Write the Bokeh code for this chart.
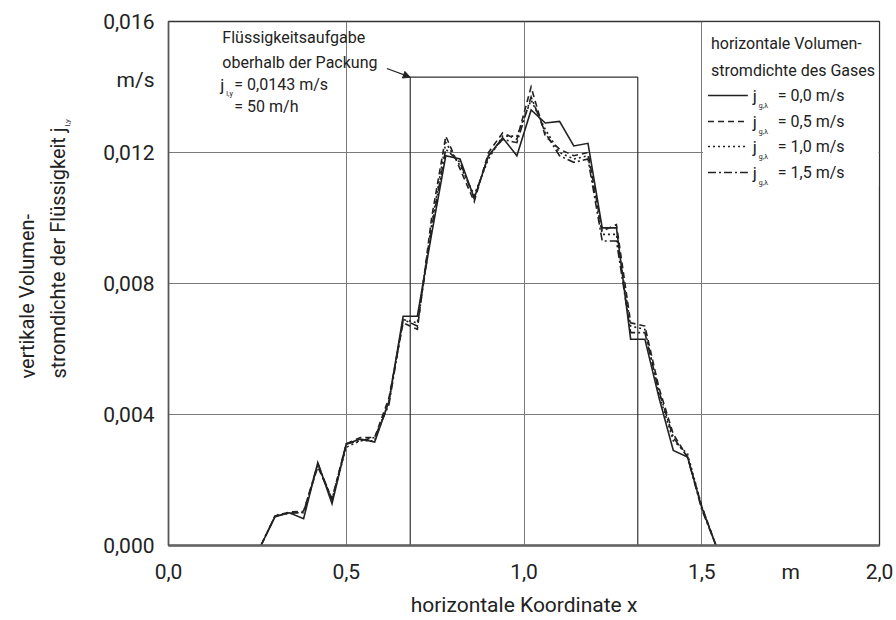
from bokeh.plotting import figure
from bokeh.layouts import row
from bokeh.models import Range1d, FixedTicker, CustomJSTickFormatter, Label, Arrow, NormalHead
from bokeh.embed import file_html
from bokeh.resources import INLINE

# ---------------- data ----------------
x_pos = [0.26, 0.30, 0.34, 0.38, 0.42, 0.46, 0.50, 0.54, 0.58, 0.62, 0.66,
         0.70, 0.74, 0.78, 0.82, 0.86, 0.90, 0.94, 0.98, 1.02, 1.06, 1.10,
         1.14, 1.18, 1.22, 1.26, 1.30, 1.34, 1.38, 1.42, 1.46, 1.50, 1.54]
j_00 = [0.0, 0.00088, 0.00100, 0.00082, 0.00253, 0.00128, 0.00310, 0.00325, 0.00316, 0.00440, 0.00700,
        0.00700, 0.00950, 0.01190, 0.01180, 0.01060, 0.01190, 0.01245, 0.01190, 0.01330, 0.01290, 0.01295,
        0.01220, 0.01228, 0.00970, 0.00970, 0.00630, 0.00630, 0.00450, 0.00290, 0.00270, 0.00116, 0.0]
j_05 = [0.0, 0.00090, 0.00102, 0.00105, 0.00240, 0.00143, 0.00310, 0.00330, 0.00330, 0.00450, 0.00680,
        0.00660, 0.01000, 0.01250, 0.01150, 0.01050, 0.01200, 0.01260, 0.01240, 0.01400, 0.01250, 0.01210,
        0.01190, 0.01200, 0.00960, 0.00980, 0.00680, 0.00670, 0.00480, 0.00340, 0.00270, 0.00120, 0.0]
j_10 = [0.0, 0.00092, 0.00100, 0.00100, 0.00245, 0.00138, 0.00300, 0.00320, 0.00320, 0.00440, 0.00690,
        0.00680, 0.00980, 0.01230, 0.01160, 0.01070, 0.01180, 0.01250, 0.01250, 0.01360, 0.01270, 0.01200,
        0.01180, 0.01190, 0.00950, 0.00950, 0.00670, 0.00660, 0.00460, 0.00320, 0.00280, 0.00120, 0.0]
j_15 = [0.0, 0.00090, 0.00098, 0.00102, 0.00250, 0.00140, 0.00310, 0.00320, 0.00330, 0.00430, 0.00690,
        0.00670, 0.00970, 0.01210, 0.01170, 0.01060, 0.01190, 0.01240, 0.01230, 0.01370, 0.01260, 0.01190,
        0.01170, 0.01180, 0.00930, 0.00930, 0.00650, 0.00650, 0.00470, 0.00330, 0.00270, 0.00110, 0.0]
gas_labels = ["0,0", "0,5", "1,0", "1,5"]

feed_left = 0.68
feed_right = 1.32
feed_value = 0.0143

x_ticks = [0.0, 0.5, 1.0, 1.5, 2.0]
y_ticks = [0.0, 0.004, 0.008, 0.012, 0.016]
x_unit, x_unit_pos = "m", 1.75
y_unit, y_unit_pos = "m/s", 0.0142

# ---------------- layout ----------------
W, H = 896, 620
LW = 100                      # width of the strip that holds the y title
FL, FR, FT, FB = 166, 879, 21, 545
X0, X1, Y0, Y1 = 0.0, 2.0, 0.0, 0.016
FONT = "Roboto"
INK = "#222222"


def dx(px):
    return X0 + (px - FL) / (FR - FL) * (X1 - X0)


def dy(py):
    return Y0 + (FB - py) / (FB - FT) * (Y1 - Y0)


p = figure(width=W - LW, height=H, output_backend="svg", toolbar_location=None,
           x_range=Range1d(X0, X1), y_range=Range1d(Y0, Y1),
           min_border_left=FL - LW, min_border_right=W - FR,
           min_border_top=FT, min_border_bottom=H - FB)
p.background_fill_color = "white"
p.border_fill_color = "white"
p.outline_line_color = "#333333"
p.outline_line_width = 1.3

fmt_code = ("if (Math.abs(tick - upos) < 1e-9) { return ulab; } "
            "return tick.toFixed(nd).replace('.', ',');")
for ax, ticks, upos, ulab, nd, standoff in (
        (p.xaxis, x_ticks, x_unit_pos, x_unit, 1, 14),
        (p.yaxis, y_ticks, y_unit_pos, y_unit, 3, 14)):
    ax.ticker = FixedTicker(ticks=sorted(ticks + [upos]))
    ax.formatter = CustomJSTickFormatter(args=dict(upos=upos, ulab=ulab, nd=nd), code=fmt_code)
    ax.major_tick_in = 0
    ax.major_tick_out = 0
    ax.minor_tick_in = 0
    ax.minor_tick_out = 0
    ax.major_label_text_font = FONT
    ax.major_label_text_font_size = "21px"
    ax.major_label_text_color = INK
    ax.major_label_standoff = standoff
    ax.axis_line_color = "#555555"
    ax.axis_line_width = 1.5
p.xaxis.axis_line_color = "#666666"
p.xaxis.axis_line_width = 2.5
p.xaxis.axis_label = "horizontale Koordinate x"
p.xaxis.axis_label_text_font = FONT
p.xaxis.axis_label_text_font_size = "21px"
p.xaxis.axis_label_text_font_style = "normal"
p.xaxis.axis_label_text_color = INK
p.xaxis.axis_label_standoff = 6

p.xgrid.ticker = FixedTicker(ticks=x_ticks)
p.ygrid.ticker = FixedTicker(ticks=y_ticks)
p.xgrid.grid_line_color = "#7a7a7a"
p.ygrid.grid_line_color = "#7a7a7a"
p.xgrid.grid_line_width = 1
p.ygrid.grid_line_width = 1

# liquid feed above the packing
p.line([feed_left, feed_left, feed_right, feed_right], [0, feed_value, feed_value, 0],
       line_color="#333333", line_width=1.2)

# legend box (white, hides grid)
p.quad(left=dx(702), right=dx(878), bottom=dy(186), top=dy(22),
       fill_color="white", line_color=None)

dashes = ["solid", "6 4", "2 3", "8 3 2 3"]
series = [j_00, j_05, j_10, j_15]
for i in [3, 2, 1, 0]:
    p.line(x_pos, series[i], line_color=INK, line_width=1.6, line_dash=dashes[i],
           line_join="miter")


def lab(fig, text, x, y, size, align="left", baseline="middle", angle=0.0):
    fig.add_layout(Label(x=x, y=y, text=text, text_font=FONT,
                         text_font_size=f"{size}px", text_color=INK,
                         text_align=align, text_baseline=baseline, angle=angle))


def plab(text, px, py, size, **kw):
    lab(p, text, dx(px), dy(py), size, **kw)


# legend
plab("horizontale Volumen-", 710, 43, 16)
plab("stromdichte des Gases", 710, 70, 16)
rows = [95, 121, 146, 172]
for i, ry in enumerate(rows):
    p.line([dx(707), dx(747)], [dy(ry), dy(ry)], line_color=INK, line_width=1.3,
           line_dash=dashes[i])
    plab("j", 752, ry, 17)
    plab("g,λ", 758, ry + 10, 7)
    plab(f"= {gas_labels[i]} m/s", 777, ry, 16)

# annotation
plab("Flüssigkeitsaufgabe", 220, 37, 16)
plab("oberhalb der Packung", 220, 62, 16)
plab("j", 218, 84, 17)
plab("l,y", 224, 93, 7)
plab("= " + f"{feed_value:.4f}".replace(".", ",") + " m/s", 232, 84, 16)
plab("= 50 m/h", 232, 106, 16)
p.add_layout(Arrow(end=NormalHead(size=7, fill_color=INK, line_color=INK),
                   x_start=dx(385), y_start=dy(68), x_end=feed_left, y_end=feed_value,
                   line_color=INK, line_width=1.2))

# ---------------- y title strip (frame aligned with the main frame; y in page pixels) ----------------
q = figure(width=LW, height=H, output_backend="svg", toolbar_location=None,
           x_range=Range1d(0, LW), y_range=Range1d(FB, FT),
           x_axis_type=None, y_axis_type=None,
           min_border_left=0, min_border_right=0,
           min_border_top=FT, min_border_bottom=H - FB)
q.outline_line_color = None
q.grid.visible = False
q.background_fill_color = "white"
q.border_fill_color = "white"
lab(q, "vertikale Volumen-", 27, 378, 20, angle=1.5708)
lab(q, "stromdichte der Flüssigkeit j", 58, 378, 20, angle=1.5708)
lab(q, "l,y", 67, 126, 8, angle=1.5708)

layout = row(q, p, spacing=0)
open("out.html", "w").write(file_html(layout, INLINE))
